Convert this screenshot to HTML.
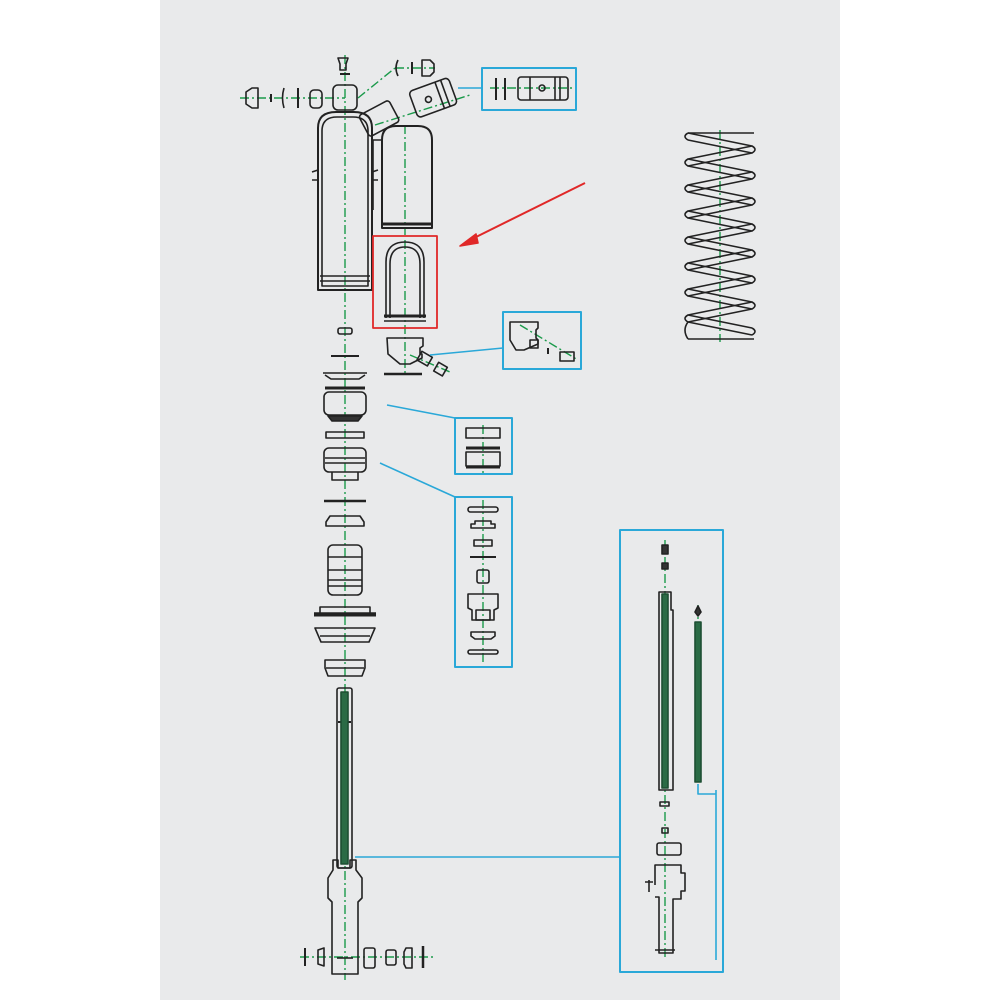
<!DOCTYPE html>
<html><head><meta charset="utf-8"><style>
html,body{margin:0;padding:0;background:#fff;}
svg{display:block}
</style></head><body>
<svg width="1000" height="1000" viewBox="0 0 1000 1000" xmlns="http://www.w3.org/2000/svg">
<rect x="0" y="0" width="1000" height="1000" fill="#ffffff"/>
<rect x="160" y="0" width="680" height="1000" fill="#e9eaeb"/>

<g fill="none" stroke="#222" stroke-width="1.6" stroke-linejoin="round">
<g stroke="#1a9a4a" stroke-width="1.4" stroke-dasharray="9 3 2 3">
<line x1="345" y1="55" x2="345" y2="980"/>
<line x1="240" y1="98" x2="345" y2="98"/>
<line x1="358" y1="98" x2="395" y2="68"/>
<line x1="395" y1="68" x2="435" y2="68"/>
<line x1="375" y1="125" x2="470" y2="95"/>
<line x1="405" y1="125" x2="405" y2="235"/>
<line x1="405" y1="240" x2="405" y2="375"/>
<line x1="410" y1="355" x2="450" y2="372"/>
<line x1="300" y1="957" x2="435" y2="957"/>
<line x1="665" y1="540" x2="665" y2="960"/>
<line x1="698" y1="605" x2="698" y2="780"/>
<line x1="720" y1="130" x2="720" y2="342"/>
<line x1="490" y1="88" x2="572" y2="88"/>
<line x1="483" y1="425" x2="483" y2="473"/>
<line x1="483" y1="500" x2="483" y2="665"/>
<line x1="520" y1="325" x2="578" y2="360"/>
</g>

<path d="M338 58h10l-2 6v6h-6v-6z"/>
<line x1="340" y1="74" x2="350" y2="74" stroke-width="2"/>
<path d="M246 92l6-4h6v20h-6l-6-4z"/>
<line x1="271" y1="94" x2="271" y2="102" stroke-width="2"/>
<path d="M284 88q-3 10 0 20"/>
<line x1="298" y1="88" x2="298" y2="108" stroke-width="2"/>
<rect x="310" y="90" width="12" height="18" rx="4"/>
<rect x="333" y="85" width="24" height="25" rx="5"/>
<path d="M398 60q-4 8 0 16"/>
<line x1="412" y1="62" x2="412" y2="74" stroke-width="2"/>
<path d="M422 60h8l4 4v8l-4 4h-8z"/>
<g transform="rotate(-28 380 118)">
<rect x="362" y="106" width="34" height="24" rx="3"/>
</g>
<g transform="rotate(-20 435 97)">
<rect x="412" y="83" width="42" height="28" rx="4"/>
<line x1="440" y1="83" x2="440" y2="111"/><line x1="446" y1="83" x2="446" y2="111"/>
<circle cx="428" cy="97" r="3"/>
</g>
<line x1="458" y1="88" x2="482" y2="88" stroke="#2aa8d8" stroke-width="1.6"/>
<rect x="482" y="68" width="94" height="42" stroke="#2aa8d8" stroke-width="2"/>
<line x1="496" y1="78" x2="496" y2="100" stroke-width="2"/>
<line x1="505" y1="78" x2="505" y2="100" stroke-width="2"/>
<rect x="518" y="77" width="50" height="23" rx="3"/>
<line x1="530" y1="77" x2="530" y2="100"/>
<circle cx="542" cy="88" r="3"/>
<line x1="555" y1="77" x2="555" y2="100"/><line x1="560" y1="77" x2="560" y2="100"/>

<path d="M318 290V128q0-16 18-16h18q18 0 18 16v162z" stroke-width="2"/>
<path d="M322 286V131q0-14 15-14h16q15 0 15 14v155z"/>
<line x1="320" y1="276" x2="370" y2="276"/><line x1="320" y1="281" x2="370" y2="281"/>
<path d="M312 180h6M312 172l6-2M372 172l6-2M372 180h6"/>
<path d="M373 210V140h9"/>
<path d="M382 228V140q0-14 14-14h22q14 0 14 14v88z" stroke-width="2"/>
<line x1="383" y1="224" x2="431" y2="224" stroke-width="3"/>

<rect x="373" y="236" width="64" height="92" stroke="#e02828" stroke-width="1.8"/>
<path d="M386 318V262q0-20 19-20t19 20v56"/>
<path d="M390 318V264q0-17 15-17t15 17v54"/>
<line x1="384" y1="316" x2="426" y2="316" stroke-width="3"/>
<line x1="384" y1="321" x2="426" y2="321"/>
<line x1="585" y1="183" x2="470" y2="240" stroke="#e02828" stroke-width="2"/>
<path d="M460 246l16-12 2 9z" fill="#e02828" stroke="#e02828"/>

<path d="M387 338h36v8l-3 2v6h2v4l-12 6h-10l-12-10z"/>
<g transform="rotate(30 425 360)"><rect x="418" y="354" width="12" height="10"/></g>
<g transform="rotate(30 440 370)"><rect x="435" y="364" width="10" height="10"/></g>
<line x1="384" y1="374" x2="422" y2="374" stroke-width="2.5"/>
<line x1="430" y1="355" x2="503" y2="348" stroke="#2aa8d8" stroke-width="1.6"/>
<rect x="503" y="312" width="78" height="57" stroke="#2aa8d8" stroke-width="2"/>
<path d="M510 322h28v6l-2 2v8l2 2v4l-14 6h-8l-6-10z"/>
<rect x="530" y="340" width="8" height="8"/>
<line x1="548" y1="348" x2="548" y2="354" stroke-width="2"/>
<rect x="560" y="352" width="14" height="9"/>

<rect x="338" y="328" width="14" height="6" rx="2"/>
<line x1="331" y1="356" x2="359" y2="356" stroke-width="2"/>
<path d="M323 373h44M325 375l6 4h28l6-4"/>
<line x1="325" y1="388" x2="365" y2="388" stroke-width="3"/>
<rect x="324" y="392" width="42" height="23" rx="5"/>
<path d="M328 416h34l-4 5h-26z" fill="#333"/>
<rect x="326" y="432" width="38" height="6"/>
<rect x="324" y="448" width="42" height="24" rx="5"/>
<line x1="325" y1="458" x2="365" y2="458"/><line x1="325" y1="463" x2="365" y2="463"/>
<path d="M332 472v8h26v-8"/>
<line x1="324" y1="501" x2="366" y2="501" stroke-width="2.5"/>
<path d="M326 522l4-6h30l4 6v4h-38z"/>
<rect x="328" y="545" width="34" height="50" rx="5"/>
<line x1="328" y1="557" x2="362" y2="557"/><line x1="328" y1="570" x2="362" y2="570"/>
<line x1="328" y1="580" x2="362" y2="580"/><line x1="328" y1="586" x2="362" y2="586"/>
<path d="M314 613h62M320 613v-6h50v6"/>
<line x1="314" y1="615" x2="376" y2="615" stroke-width="3"/>
<path d="M315 628h60l-6 14h-48z"/>
<line x1="320" y1="636" x2="370" y2="636"/>
<path d="M325 660h40v8l-3 8h-34l-3-8z"/>
<line x1="326" y1="668" x2="364" y2="668"/>

<line x1="387" y1="405" x2="455" y2="418" stroke="#2aa8d8" stroke-width="1.6"/>
<rect x="455" y="418" width="57" height="56" stroke="#2aa8d8" stroke-width="2"/>
<rect x="466" y="428" width="34" height="10"/>
<line x1="466" y1="448" x2="500" y2="448" stroke-width="3"/>
<rect x="466" y="452" width="34" height="14"/>
<line x1="466" y1="467" x2="500" y2="467" stroke-width="3"/>
<line x1="380" y1="463" x2="455" y2="497" stroke="#2aa8d8" stroke-width="1.6"/>
<rect x="455" y="497" width="57" height="170" stroke="#2aa8d8" stroke-width="2"/>
<rect x="468" y="507" width="30" height="5" rx="2.5"/>
<path d="M471 528v-4h4v-3h16v3h4v4z"/>
<rect x="474" y="540" width="18" height="6"/>
<line x1="470" y1="557" x2="496" y2="557" stroke-width="2"/>
<rect x="477" y="570" width="12" height="13" rx="2"/>
<path d="M468 594h30v14l-4 2v10h-22v-10l-4-2z"/>
<rect x="476" y="610" width="14" height="10"/>
<path d="M471 632h24v4l-4 3h-16l-4-3z"/>
<rect x="468" y="650" width="30" height="4" rx="2"/>

<rect x="337" y="688" width="15" height="180" rx="2"/>
<line x1="338" y1="722" x2="351" y2="722" stroke-width="2"/>
<rect x="341" y="692" width="7" height="172" fill="#2a6b45" stroke="#1d4f33"/>
<path d="M333 870v-10h5v8h12v-8h6v10l6 8v20l-4 4v72h-26v-72l-4-4v-20z"/>
<line x1="337" y1="958" x2="353" y2="958"/>
<line x1="355" y1="857" x2="620" y2="857" stroke="#2aa8d8" stroke-width="1.6"/>
<line x1="305" y1="948" x2="305" y2="966" stroke-width="2"/>
<path d="M318 950l6-2v18l-6-2z"/>
<rect x="364" y="948" width="11" height="20" rx="2"/>
<rect x="386" y="950" width="10" height="15" rx="2"/>
<path d="M406 948h6v20h-6l-2-4v-12z"/>
<line x1="423" y1="946" x2="423" y2="968" stroke-width="2.5"/>

<rect x="620" y="530" width="103" height="442" stroke="#2aa8d8" stroke-width="2"/>
<rect x="662" y="545" width="6" height="9" fill="#333"/>
<rect x="662" y="563" width="6" height="6" fill="#333"/>
<path d="M659 790V592h12v18h2v180z"/>
<rect x="662" y="594" width="6" height="194" fill="#2a6b45" stroke="#1d4f33"/>
<path d="M695 612l3-6 3 6-3 4z" fill="#333"/>
<rect x="695" y="622" width="6" height="160" fill="#2a6b45" stroke="#1d4f33"/>
<path d="M698 784v10h18" stroke="#2aa8d8"/>
<path d="M716 790v170" stroke="#2aa8d8"/>
<rect x="660" y="802" width="9" height="4"/>
<rect x="662" y="828" width="6" height="5"/>
<rect x="657" y="843" width="24" height="12" rx="2"/>
<path d="M655 885v-20h26v8h4v18h-4v8h-8v54h-14v-56h-4"/>
<path d="M649 880v12M645 882h8"/>
<line x1="655" y1="950" x2="675" y2="950"/>

<!-- spring -->
<polyline points="688,133 752,146 688,159 752,172 688,185 752,198 688,211 752,224 688,237 752,250 688,263 752,276 688,289 752,302 688,315 752,328"/>
<polyline points="688,140 752,153 688,166 752,179 688,192 752,205 688,218 752,231 688,244 752,257 688,270 752,283 688,296 752,309 688,322 752,335"/>
<path d="M688 133q-6 3.5 0 7M688 159q-6 3.5 0 7M688 185q-6 3.5 0 7M688 211q-6 3.5 0 7M688 237q-6 3.5 0 7M688 263q-6 3.5 0 7M688 289q-6 3.5 0 7M688 315q-6 3.5 0 7
M752 146q6 3.5 0 7M752 172q6 3.5 0 7M752 198q6 3.5 0 7M752 224q6 3.5 0 7M752 250q6 3.5 0 7M752 276q6 3.5 0 7M752 302q6 3.5 0 7M752 328q6 3.5 0 7
M688 133H754M688 339H754M688 322q-6 8 0 17"/>
</g>
</svg>
</body></html>
